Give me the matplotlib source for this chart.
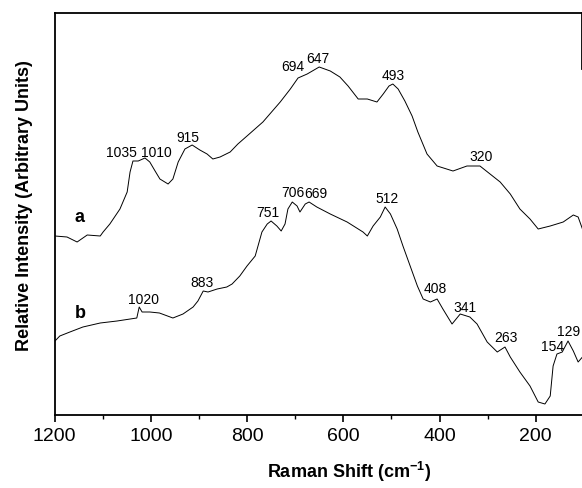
import matplotlib
matplotlib.use("Agg")
import matplotlib.pyplot as plt
from matplotlib.ticker import MultipleLocator

plt.rcParams['font.family'] = ['Liberation Sans', 'DejaVu Sans']

# spectrum a (wavenumber, relative intensity)
wn_a = [1199, 1174, 1153, 1132, 1105, 1099, 1085, 1064, 1049, 1043, 1037, 1026,
        1012, 1002, 991, 981, 964, 954, 943, 929, 914, 898, 883, 871, 856, 835,
        819, 800, 767, 731, 710, 694, 675, 650, 627, 607, 590, 569, 550, 530,
        517, 505, 497, 486, 472, 457, 445, 426, 405, 372, 343, 316, 295, 274,
        253, 233, 212, 195, 170, 143, 122, 112, 103]
int_a = [179, 178, 173, 180, 179, 183, 191, 206, 223, 243, 254, 254,
         257, 253, 244, 236, 231, 236, 253, 266, 270, 265, 261, 256, 258, 263,
         271, 279, 293, 313, 326, 337, 341, 348, 344, 338, 329, 316, 316, 313,
         321, 329, 331, 326, 314, 299, 283, 261, 249, 244, 249, 249, 241, 233,
         221, 206, 196, 186, 189, 193, 200, 198, 186]

# spectrum b
wn_b = [1199, 1189, 1168, 1141, 1105, 1070, 1029, 1024, 1018, 1002, 982, 954,
        933, 912, 902, 891, 881, 862, 842, 831, 815, 800, 783, 769, 758, 750,
        738, 729, 721, 715, 706, 696, 690, 679, 671, 655, 627, 592, 559, 550,
        538, 523, 513, 502, 488, 476, 461, 446, 434, 419, 405, 393, 374, 357,
        337, 322, 301, 280, 264, 253, 233, 212, 195, 181, 170, 164, 156, 145,
        133, 122, 112, 103]
int_b = [74, 79, 83, 88, 92, 94, 97, 108, 103, 103, 102, 97,
         101, 108, 114, 124, 123, 126, 128, 131, 139, 149, 159, 183, 191, 194,
         189, 184, 191, 206, 213, 209, 203, 211, 213, 208, 201, 193, 183, 179,
         189, 198, 208, 201, 186, 169, 149, 129, 116, 113, 116, 106, 91, 101,
         98, 91, 73, 63, 68, 58, 43, 29, 13, 11, 19, 49, 61, 63,
         74, 64, 53, 58]

peaks_a = ['1035', '1010', '915', '694', '647', '493', '320']
peaks_b = ['1020', '883', '751', '706', '669', '512', '408', '341', '263', '154', '129']

# where the peak labels sit
pos_a = [(1060, 263), (989, 263), (922, 278), (704, 349), (652, 357), (497, 340), (314, 259)]
pos_b = [(1016, 116), (893, 133), (756, 203), (704, 223), (657, 222), (509, 217),
         (409, 127), (347, 108), (262, 78), (166, 69), (131, 84)]

fig = plt.figure(figsize=(5.82, 4.89), dpi=100)
ax = fig.add_axes([54.5 / 582, 73 / 489, 527 / 582, 402 / 489])

ax.plot(wn_a, int_a, color='black', lw=0.7)
ax.plot(wn_b, int_b, color='black', lw=0.7)

for txt, (x, y) in zip(peaks_a, pos_a):
    ax.text(x, y, txt, ha='center', va='center', fontsize=10)
for txt, (x, y) in zip(peaks_b, pos_b):
    ax.text(x, y, txt, ha='center', va='center', fontsize=10)

ax.text(1149, 198, 'a', fontsize=13, fontweight='bold', ha='center', va='center')
ax.text(1147, 103, 'b', fontsize=13, fontweight='bold', ha='center', va='center')

ax.set_xlim(1200, 105)
ax.set_ylim(0, 402)
ax.xaxis.set_major_locator(MultipleLocator(200))
ax.xaxis.set_minor_locator(MultipleLocator(100))
ax.tick_params(axis='x', which='major', direction='out', length=5, width=1.2,
               labelsize=14, pad=4)
ax.tick_params(axis='x', which='minor', direction='out', length=3, width=1.0)
ax.set_yticks([])
for s in ax.spines.values():
    s.set_linewidth(1.3)
ax.spines['right'].set_bounds(346, 402)

ax.set_xlabel('Raman Shift (cm$^{\\mathregular{-1}}$)', fontsize=13, fontweight='bold')
ax.set_ylabel('Relative Intensity (Arbitrary Units)', fontsize=13, fontweight='bold')
ax.xaxis.set_label_coords((349.5 - 54.5) / 527, -(460 - 416) / 402)
ax.yaxis.set_label_coords(-(54.5 - 33) / 527, (416 - 206) / 402)

fig.savefig('out.png', dpi=100)
